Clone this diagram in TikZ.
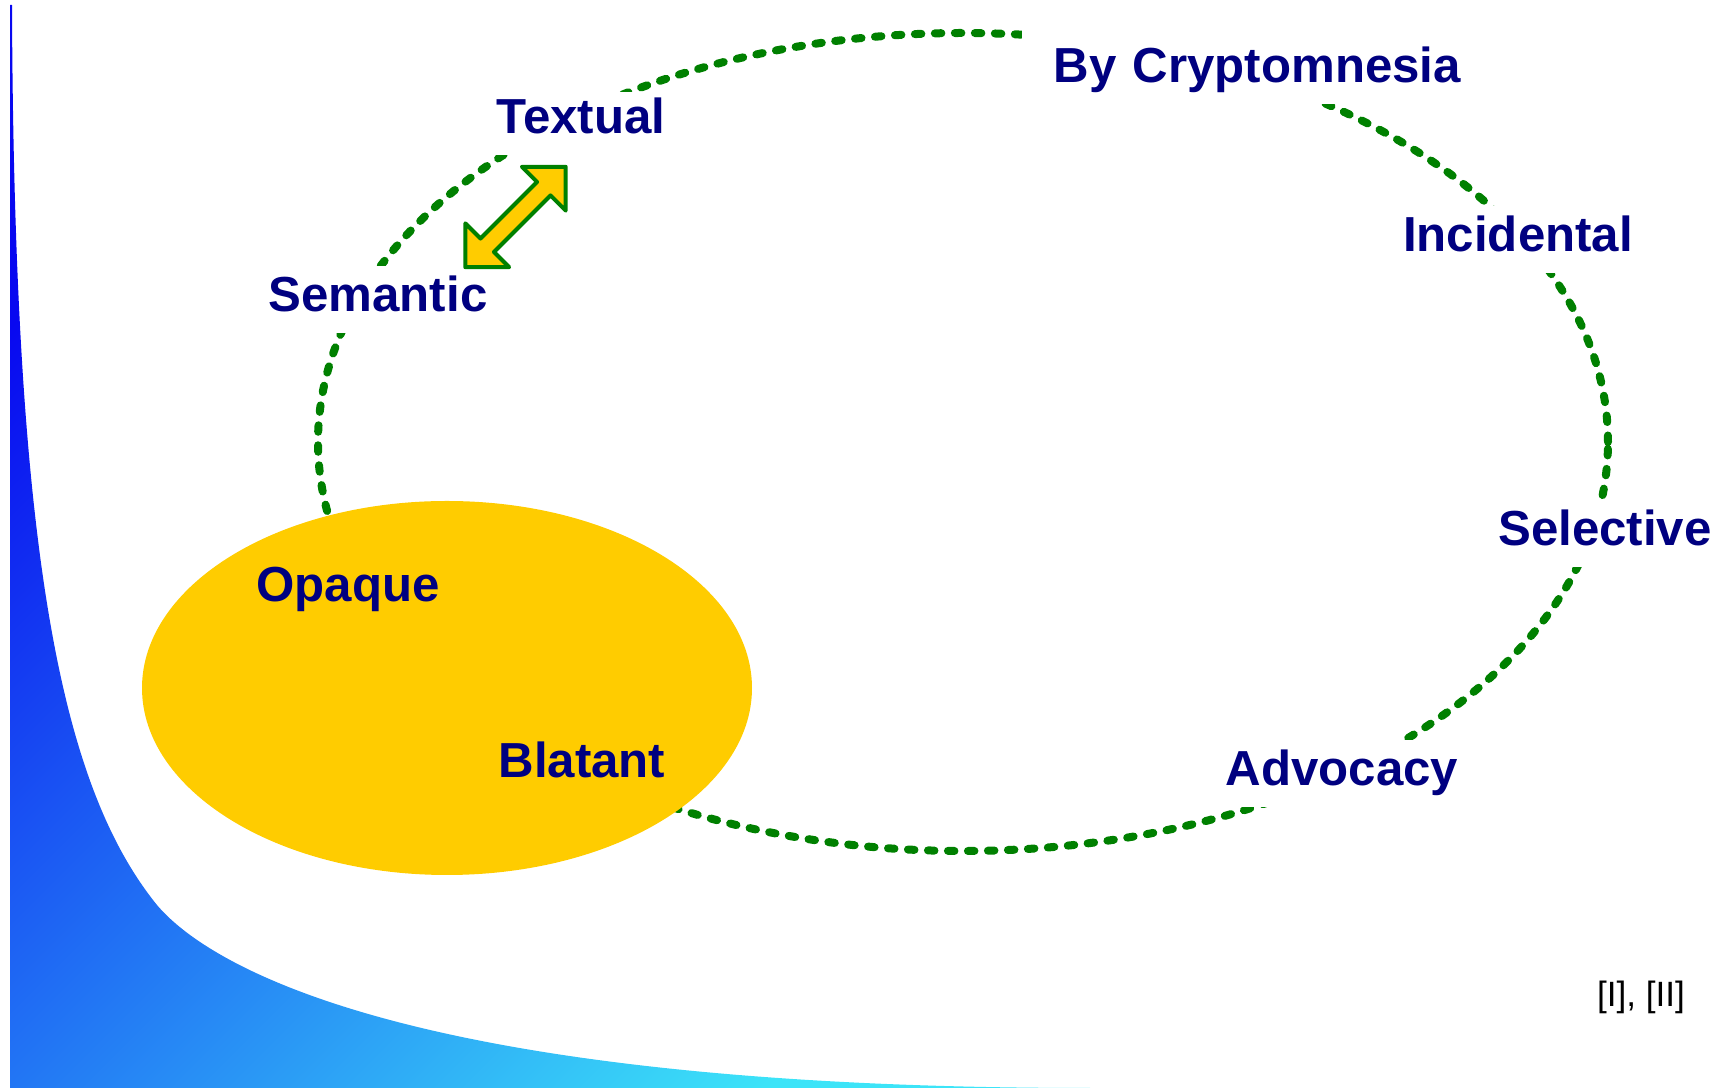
\documentclass[tikz,border=0pt]{standalone}
\usepackage{fontspec}
\setmainfont{Liberation Sans}
\definecolor{labelblue}{RGB}{0,0,128}
\definecolor{ringgreen}{RGB}{0,128,0}
\definecolor{blobyellow}{RGB}{255,204,0}
\definecolor{tailtop}{RGB}{8,8,240}
\definecolor{tailmid}{RGB}{28,122,224}
\definecolor{tailend}{RGB}{60,228,248}

\begin{document}
\begin{tikzpicture}[kind/.style={font=\bfseries\fontsize{14}{17}\selectfont, text=labelblue, fill=white, anchor=base,
    inner xsep=4pt, inner ysep=3pt, text height=10pt, text depth=3pt},
  ring/.style={draw=ringgreen, line width=0.08cm, line cap=round, dash pattern=on 0.065cm off 0.135cm},
  swap/.style={draw=ringgreen, fill=blobyellow, line width=0.04cm, line join=round}]
\useasboundingbox (0,0) rectangle (17.22,10.88);
\shade[top color=tailtop, middle color=tailmid, bottom color=tailend, shading angle=45]
  (0.10,0) -- (0.10,10.83) -- (0.12,10.83) .. controls (0.14,5.38) and (0.60,3.08) .. (1.53,1.88)
  .. controls (1.80,1.52) and (3.30,0) .. (10.90,0) -- cycle;
\draw[ring] (9.63,6.46) ellipse [x radius=6.45, y radius=4.09];
\fill[blobyellow] (4.47,4.00) ellipse [x radius=3.05, y radius=1.87];
\node[kind, text width=4.25cm, align=right, text height=12pt] (crypto) at (12.485,10.05) {By Cryptomnesia};
\node[kind, text height=9pt] (textual) at (5.81,9.54) {Textual};
\node[kind] (semantic) at (3.78,7.76) {Semantic};
\node[kind] (incidental) at (15.18,8.36) {Incidental};
\node[kind] (selective) at (16.05,5.42) {Selective};
\node[kind] (advocacy) at (13.42,3.02) {Advocacy};
\node[kind, fill=none] (opaque) at (3.48,4.86) {Opaque};
\node[kind, fill=none] (blatant) at (5.82,3.10) {Blatant};
\node[font=\fontsize{10}{12}\selectfont, anchor=base] (refs) at (16.41,0.81) {[I], [II]};
\begin{scope}[shift={(5.155,8.71)}, rotate=45]
\draw[swap] (-0.71,0) -- (-0.40,0.31) -- (-0.40,0.095) -- (0.40,0.095) -- (0.40,0.31) -- (0.71,0)
  -- (0.40,-0.31) -- (0.40,-0.095) -- (-0.40,-0.095) -- (-0.40,-0.31) -- cycle;
\end{scope}
\end{tikzpicture}
\end{document}
